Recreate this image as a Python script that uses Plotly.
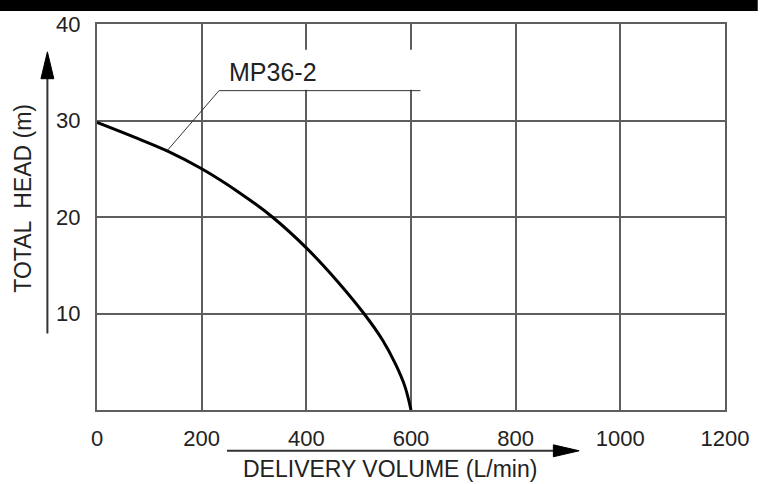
import plotly.graph_objects as go

# ---- data ----
flow = [0, 70, 136, 200, 270, 335, 400, 460, 510, 545, 570, 588, 600]            # L/min
head = [29.8, 28.3, 26.8, 25.0, 22.6, 20.0, 16.8, 13.3, 10.0, 7.3, 4.8, 2.5, 0.0]  # m
x_ticks = [0, 200, 400, 600, 800, 1000, 1200]
y_ticks = [10, 20, 30, 40]
series_name = "MP36-2"
x_title = "DELIVERY VOLUME (L/min)"
y_title = "TOTAL  HEAD (m)"

# ---- layout geometry ----
W, H = 761, 484
L, R, T, B = 97, 31, 22, 74
PW, PH = W - L - R, H - T - B


def px(x):
    return (x - L) / PW


def py(y):
    return (H - B - y) / PH


FONT = "Liberation Sans, Arial, sans-serif"
GRID = "#5e5e5e"
TXT = "#222222"

fig = go.Figure()
fig.add_trace(go.Scatter(
    x=flow, y=head, mode="lines", name=series_name,
    line=dict(color="black", width=3, shape="spline", smoothing=1.0),
    showlegend=False, hoverinfo="x+y",
))

shapes = [
    # black band at top of picture
    dict(type="rect", xref="paper", yref="paper", x0=px(-2), x1=px(W + 2),
         y0=py(9), y1=py(-2), fillcolor="black", line=dict(width=0), layer="above"),
    # white mask behind the series label
    dict(type="rect", xref="paper", yref="paper", x0=px(212), x1=px(440),
         y0=py(88), y1=py(48), fillcolor="white", line=dict(width=0), layer="above"),
    # leader line
    dict(type="path", xref="paper", yref="paper",
         path=f"M{px(168)},{py(149)} L{px(220)},{py(89)} L{px(423)},{py(89)}",
         line=dict(color="#333333", width=1), layer="above"),
    # y-axis arrow
    dict(type="line", xref="paper", yref="paper", x0=px(47), x1=px(47),
         y0=py(333), y1=py(72), line=dict(color="#333333", width=2), layer="above"),
    dict(type="path", xref="paper", yref="paper",
         path=f"M{px(47)},{py(50)} L{px(40.5)},{py(77)} L{px(53.5)},{py(77)} Z",
         fillcolor="black", line=dict(color="black", width=1), layer="above"),
    # x-axis arrow
    dict(type="line", xref="paper", yref="paper", x0=px(228), x1=px(562),
         y0=py(451), y1=py(451), line=dict(color="#333333", width=2), layer="above"),
    dict(type="path", xref="paper", yref="paper",
         path=f"M{px(583)},{py(451)} L{px(557)},{py(445)} L{px(557)},{py(457)} Z",
         fillcolor="black", line=dict(color="black", width=1), layer="above"),
]

annotations = [
    dict(text=series_name, xref="paper", yref="paper", x=px(274), y=py(70),
         xanchor="center", yanchor="middle", showarrow=False,
         font=dict(family=FONT, size=25, color=TXT)),
    dict(text=x_title, xref="paper", yref="paper", x=px(392), y=py(469),
         xanchor="center", yanchor="middle", showarrow=False,
         font=dict(family=FONT, size=23, color=TXT)),
    dict(text=y_title, xref="paper", yref="paper", x=px(23), y=py(197),
         xanchor="center", yanchor="middle", showarrow=False, textangle=-90,
         font=dict(family=FONT, size=23, color=TXT)),
]

fig.update_layout(
    width=W, height=H, autosize=False,
    margin=dict(l=L, r=R, t=T, b=B, pad=0),
    paper_bgcolor="white", plot_bgcolor="white",
    shapes=shapes, annotations=annotations,
    font=dict(family=FONT, size=22, color=TXT),
)
fig.update_xaxes(
    range=[0, 1200], tickvals=x_ticks, ticktext=[str(v) for v in x_ticks],
    showgrid=True, gridcolor=GRID, gridwidth=2,
    showline=True, linecolor=GRID, linewidth=2, mirror=True,
    zeroline=False, ticks="", ticklabelstandoff=8,
    tickfont=dict(family=FONT, size=22, color=TXT),
)
fig.update_yaxes(
    range=[0, 40], tickvals=y_ticks, ticktext=[str(v) for v in y_ticks],
    showgrid=True, gridcolor=GRID, gridwidth=2,
    showline=True, linecolor=GRID, linewidth=2, mirror=True,
    zeroline=False, ticks="", ticklabelstandoff=10,
    tickfont=dict(family=FONT, size=22, color=TXT),
)

fig.write_html(
    "out.html",
    config={"displayModeBar": False, "responsive": False},
    post_script=(
        "document.documentElement.style.margin='0';"
        "document.documentElement.style.overflow='hidden';"
        "document.body.style.margin='0';"
        "document.body.style.overflow='hidden';"
    ),
)
